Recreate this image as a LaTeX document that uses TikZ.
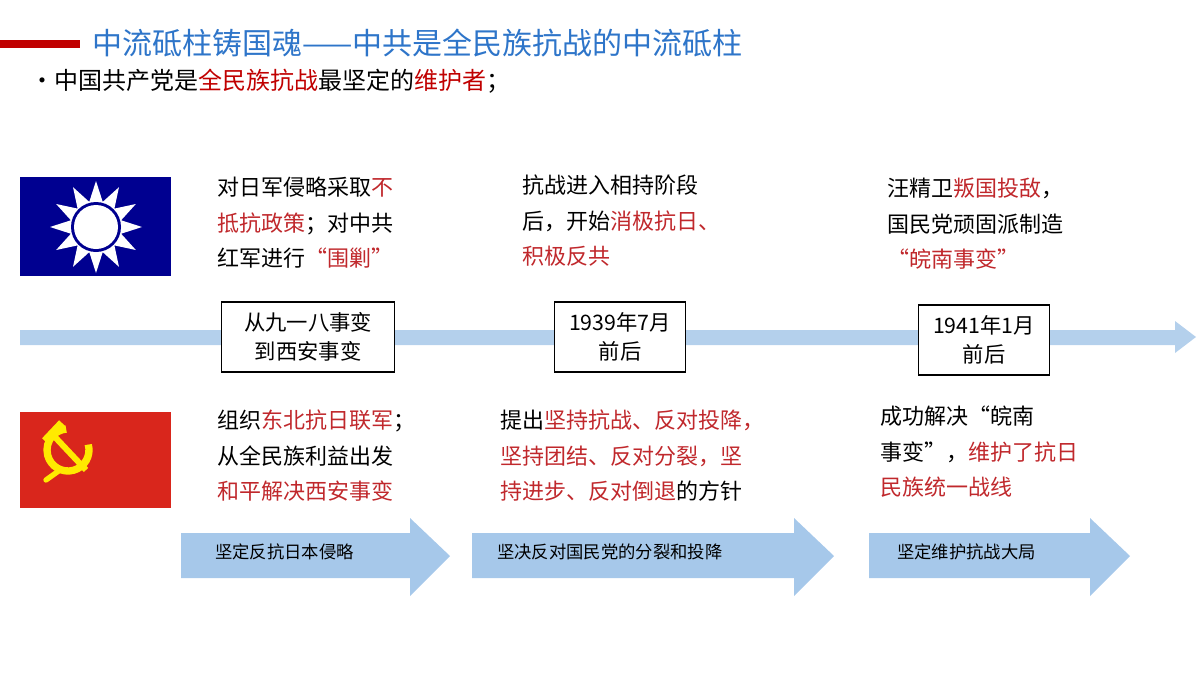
\documentclass[tikz,border=0pt]{standalone}
\usepackage{fontspec}
\setmainfont{Noto Sans CJK SC}
\usetikzlibrary{positioning}
\definecolor{hdblue}{HTML}{2E75C9}
\definecolor{hdred}{HTML}{C00000}
\definecolor{tred}{HTML}{C0282C}
\definecolor{band}{HTML}{B4D0EC}
\definecolor{blk}{HTML}{A6C8EA}
\definecolor{kmt}{HTML}{000090}
\definecolor{cpc}{HTML}{D9261C}
\definecolor{sickle}{HTML}{FFEA00}
\newcommand{\rd}[1]{\textcolor{tred}{#1}}
\tikzset{
  txt/.style={anchor=north west,align=left,font=\fontsize{16.5}{26.5}\selectfont,inner sep=0pt},
  datebox/.style={draw,thick,fill=white,align=center,font=\fontsize{16}{22}\selectfont,minimum height=52.5pt},
  arrowlbl/.style={anchor=west,font=\fontsize{13}{15}\selectfont,inner sep=0pt}
}
\begin{document}
\begin{tikzpicture}[x=0.75pt,y=-0.75pt]
\useasboundingbox (0,0) rectangle (1200,675);
% header
\fill[hdred] (0,40) rectangle (80,48);
\node[anchor=west,text=hdblue,font=\fontsize{22.5}{25}\selectfont,inner sep=0pt] (title) at (92,43) {中流砥柱铸国魂——中共是全民族抗战的中流砥柱};
\node[anchor=west,font=\fontsize{18}{20}\selectfont,inner sep=0pt] (lead) at (30,81) {•中国共产党是\textcolor{hdred}{全民族抗战}最坚定的\textcolor{hdred}{维护者}；};
% flags
\fill[kmt] (20,177) rectangle (171,276);
\fill[white] (96+46,227) \foreach \k in {1,...,23}{ -- ({96+(46-20*mod(\k,2))*cos(15*\k)},{227+(46-20*mod(\k,2))*sin(15*\k)}) } -- cycle;
\fill[kmt] (96,227) circle (25);
\fill[white] (96,227) circle (22);
\fill[cpc] (20,412) rectangle (171,508);
\draw[sickle,line width=5.5pt] (68,450)+(-15:21) arc (-15:265:21);
\draw[sickle,line width=4pt,line cap=round] (60,470) -- (46,480);
\draw[sickle,line width=4.5pt] (54,436) -- (86,470);
\draw[sickle,line width=6pt] (45,441) -- (62,423);
% timeline
\fill[band] (20,330) -- (1175,330) -- (1175,321) -- (1196,337) -- (1175,353) -- (1175,345) -- (20,345) -- cycle;
\node[datebox,minimum width=130pt] (d1) at (308,337) {从九一八事变\\到西安事变};
\node[datebox,minimum width=98pt] (d2) at (620,337) {1939年7月\\前后};
\node[datebox,minimum width=98pt] (d3) at (984,340) {1941年1月\\前后};
% upper texts
\node[txt] (u1) at (217,177) {对日军侵略采取\rd{不}\\\rd{抵抗政策}；对中共\\红军进行\rd{“围剿”}};
\node[txt] (u2) at (522,175) {抗战进入相持阶段\\后，开始\rd{消极抗日、}\\\rd{积极反共}};
\node[txt] (u3) at (887,178) {汪精卫\rd{叛国投敌}，\\国民党顽固派制造\\\rd{“皖南事变”}};
% lower texts
\node[txt] (l1) at (217,410) {组织\rd{东北抗日联军}；\\从全民族利益出发\\\rd{和平解决西安事变}};
\node[txt] (l2) at (500,410) {提出\rd{坚持抗战、反对投降，}\\\rd{坚持团结、反对分裂，坚}\\\rd{持进步、反对倒退}的方针};
\node[txt] (l3) at (880,406) {成功解决“皖南\\事变”，\rd{维护了抗日}\\\rd{民族统一战线}};
% block arrows
\foreach \n/\a/\b in {a1/181/450,a2/472/834,a3/869/1130}
  \fill[blk] (\a,533) -- (\b-40,533) -- (\b-40,518) -- (\b,556) -- (\b-40,596) -- (\b-40,578) -- (\a,578) -- cycle;
\node[arrowlbl] (a1t) at (215,552) {坚定反抗日本侵略};
\node[arrowlbl] (a2t) at (497,552) {坚决反对国民党的分裂和投降};
\node[arrowlbl] (a3t) at (897,552) {坚定维护抗战大局};
\end{tikzpicture}
\end{document}
